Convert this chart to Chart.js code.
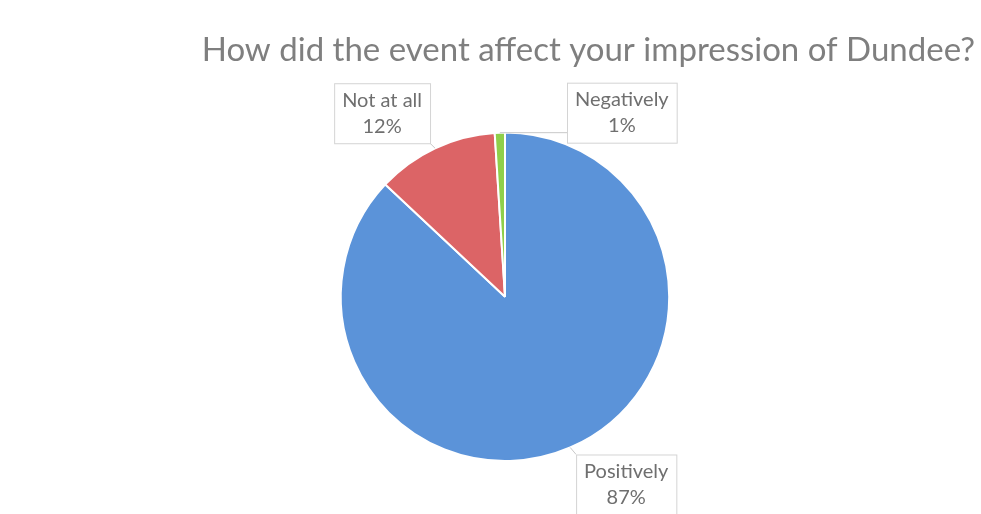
<!DOCTYPE html>
<html>
<head>
<meta charset="utf-8">
<script src="https://cdn.jsdelivr.net/npm/chart.js@4/dist/chart.umd.min.js"></script>
<style>
  html, body { margin: 0; padding: 0; background: #fff; }
  #wrap { width: 981px; height: 514px; }
</style>
</head>
<body>
<div id="wrap"><canvas id="chart" width="981" height="514"></canvas></div>
<script>
// Données du graphique
const titleText = 'How did the event affect your impression of Dundee?';
const categories = ['Positively', 'Not at all', 'Negatively'];
const shares = [87, 12, 1];
const sliceColors = ['#5b93d9', '#dc6466', '#8fcf4a'];

// Décalage des étiquettes par rapport au bord de la part (px)
const labelOffsets = [[56, 37], [-53, -35], [122, -20]];

// Étiquettes encadrées avec lignes de rappel
const boxLabels = {
    id: 'boxLabels',
    afterDatasetsDraw(chart) {
        const ctx = chart.ctx;
        const meta = chart.getDatasetMeta(0);
        ctx.save();
        ctx.font = '20px Lato';
        meta.data.forEach((arc, i) => {
            const p = arc.getProps(['x', 'y', 'startAngle', 'endAngle', 'outerRadius'], true);
            const mid = (p.startAngle + p.endAngle) / 2;
            const ax = p.x + Math.cos(mid) * p.outerRadius;
            const ay = p.y + Math.sin(mid) * p.outerRadius;
            const cx = ax + labelOffsets[i][0];
            const cy = ay + labelOffsets[i][1];
            const line1 = categories[i];
            const line2 = shares[i] + '%';
            const w = Math.max(ctx.measureText(line1).width, ctx.measureText(line2).width) + 16;
            const h = 60;
            const left = cx - w / 2, top = cy - h / 2;

            // ligne de rappel vers le point le plus proche du cadre
            const ex = Math.min(Math.max(ax, left), left + w);
            const ey = Math.min(Math.max(ay, top), top + h);
            ctx.strokeStyle = '#c8c8c8';
            ctx.lineWidth = 1;
            ctx.beginPath();
            ctx.moveTo(ax, ay);
            ctx.lineTo(ex, ey);
            ctx.stroke();

            ctx.fillStyle = '#ffffff';
            ctx.fillRect(left, top, w, h);
            ctx.strokeStyle = '#d4d4d4';
            ctx.strokeRect(left + 0.5, top + 0.5, w, h);

            ctx.fillStyle = '#6f6f6f';
            ctx.textAlign = 'center';
            ctx.textBaseline = 'middle';
            ctx.fillText(line1, cx, cy - 13);
            ctx.fillText(line2, cx, cy + 13);
        });
        ctx.restore();
    }
};

new Chart(document.getElementById('chart'), {
    type: 'pie',
    data: {
        labels: categories,
        datasets: [{
            data: shares,
            backgroundColor: sliceColors,
            borderColor: '#ffffff',
            borderWidth: 2
        }]
    },
    options: {
        responsive: false,
        animation: false,
        layout: { padding: { left: 35, right: 6, top: 0, bottom: 52 } },
        plugins: {
            legend: { display: false },
            tooltip: { enabled: false },
            title: {
                display: true,
                text: titleText,
                align: 'end',
                color: '#7f7f7f',
                font: { family: 'Lato', size: 33, weight: 'normal' },
                padding: { top: 31, bottom: 61 }
            }
        }
    },
    plugins: [boxLabels]
});
</script>
</body>
</html>
